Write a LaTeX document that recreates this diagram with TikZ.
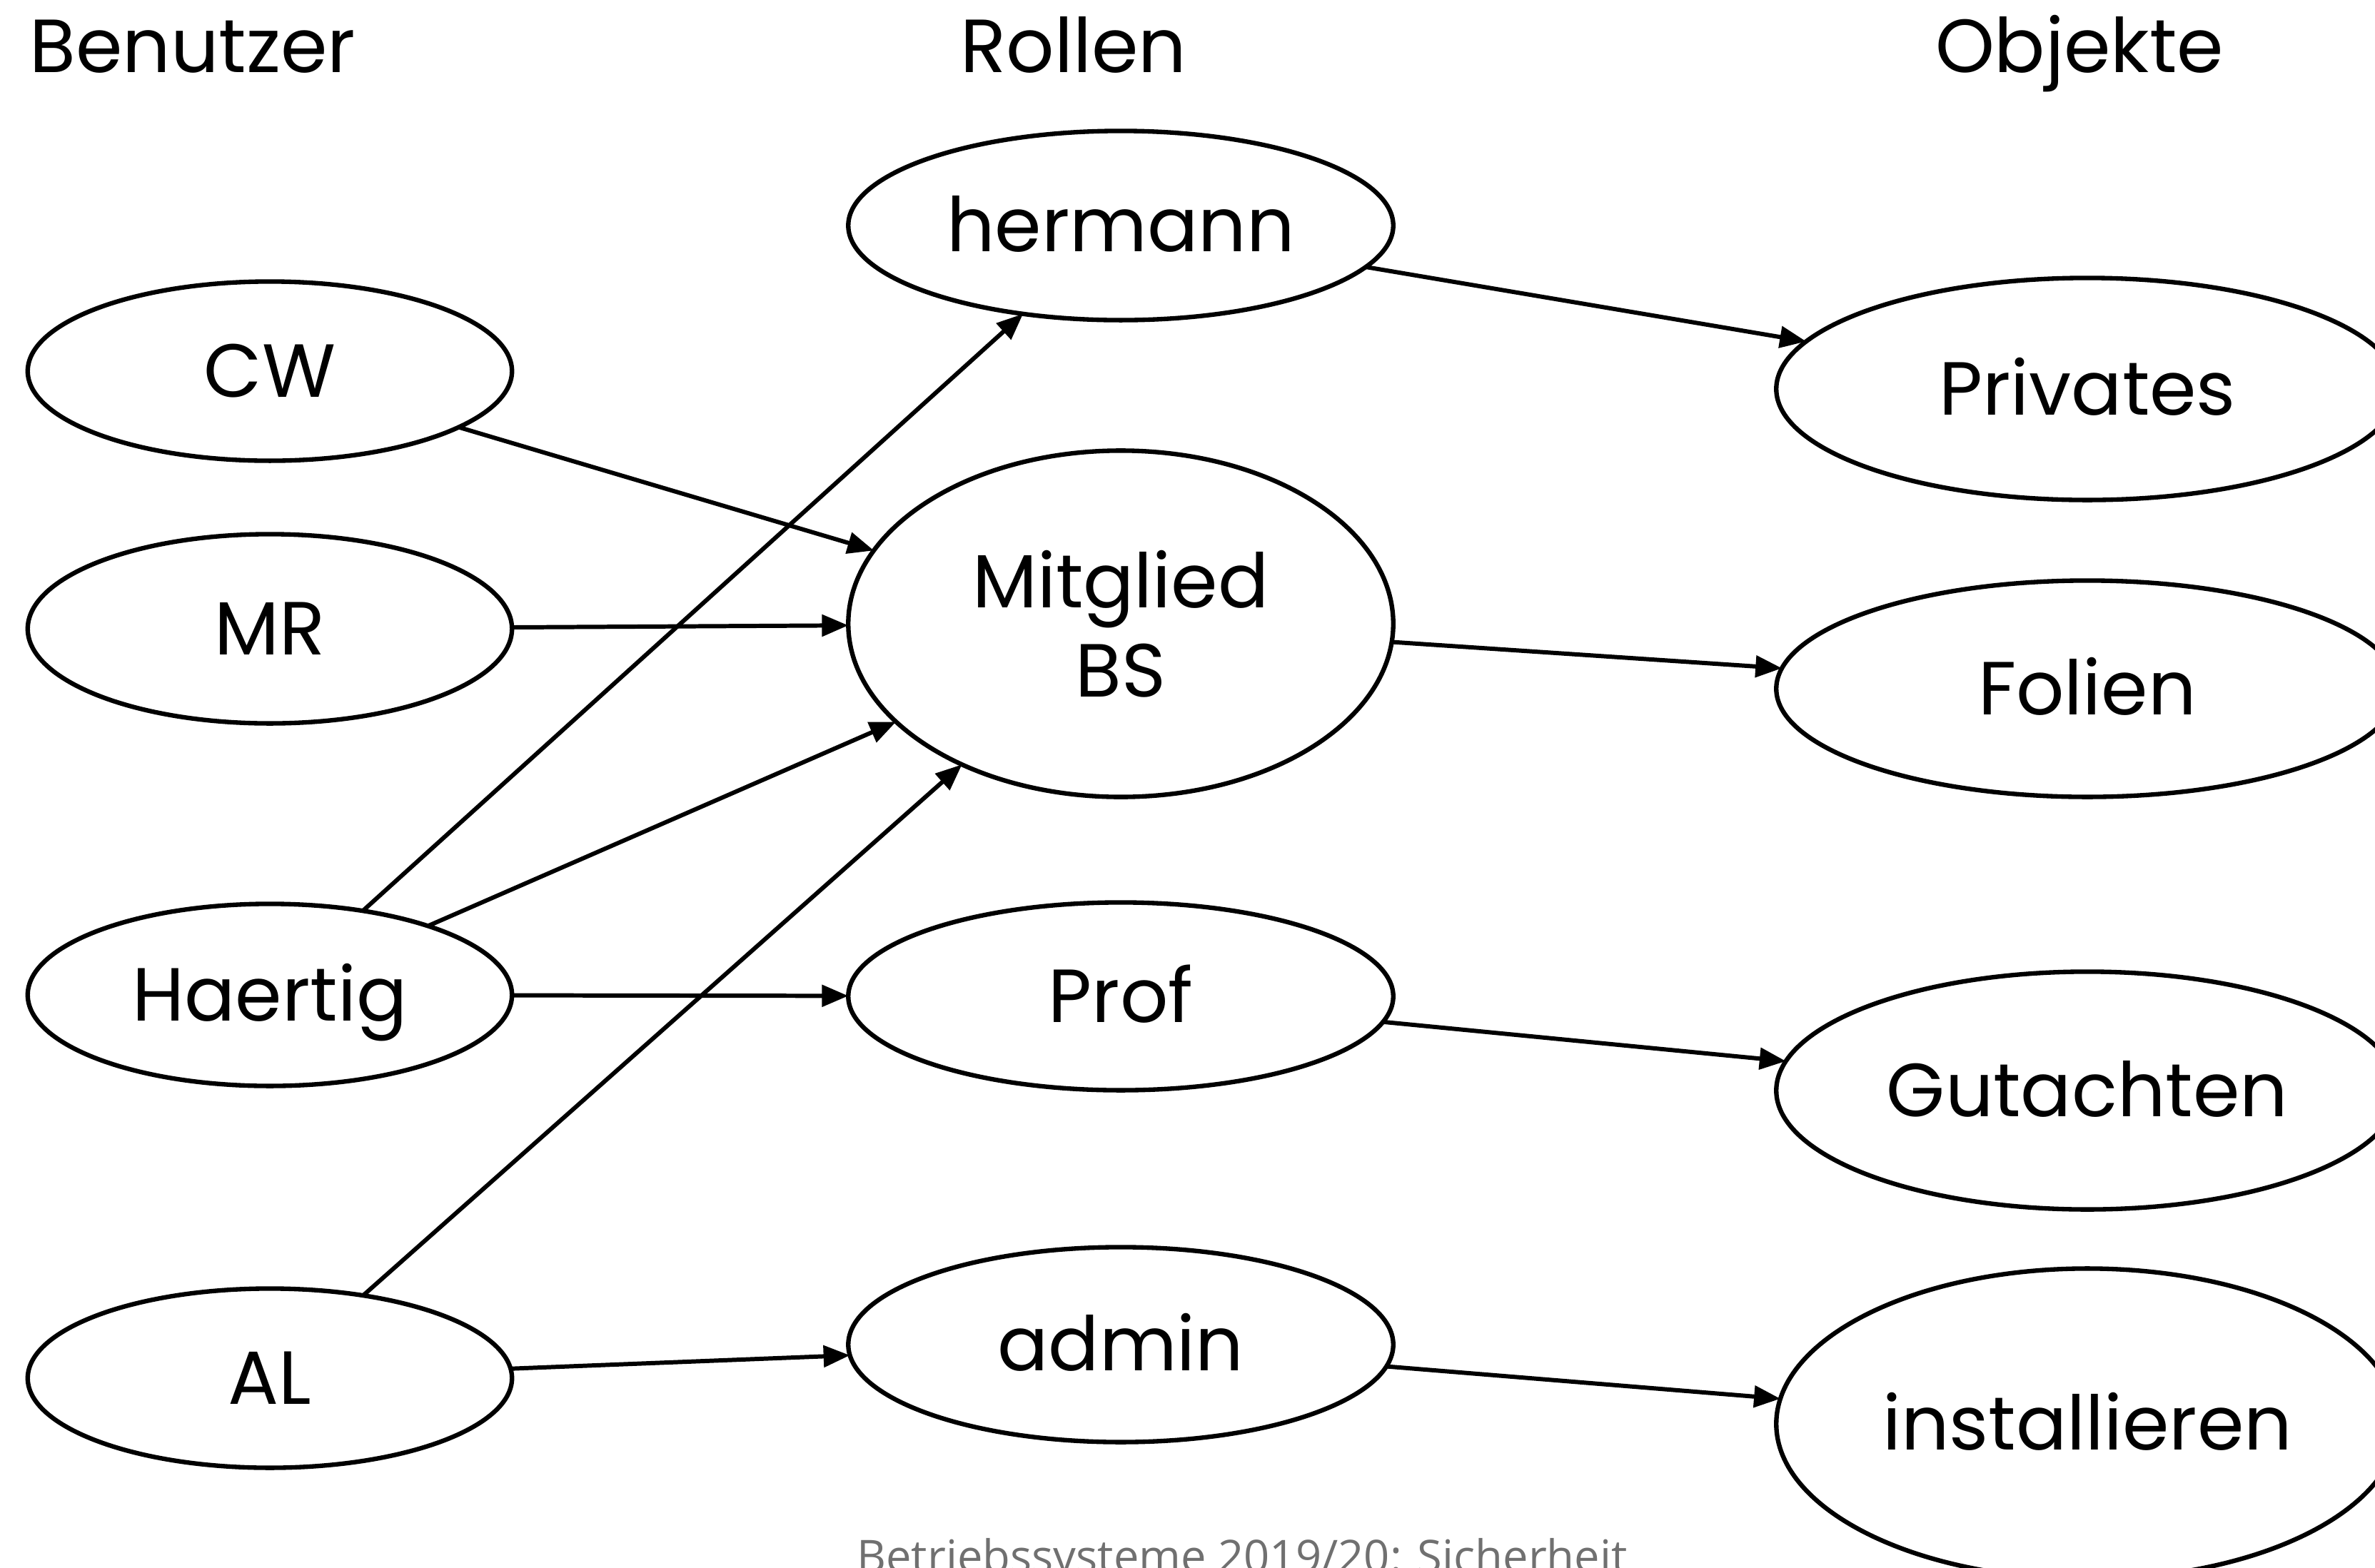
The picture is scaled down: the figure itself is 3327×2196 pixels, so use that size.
\documentclass[tikz,border=0pt]{standalone}
\usepackage{fontspec}
\setmainfont{Poppins}
\newfontfamily\footfont{Open Sans}
\usetikzlibrary{shapes.geometric,arrows.meta}
\definecolor{footgray}{RGB}{112,112,112}
\tikzset{
  ell/.style={draw, ellipse, line width=1.8pt, inner sep=0pt, outer sep=0pt,
    font=\fontsize{30}{35.6}\selectfont, align=center},
  one/.style={text height=21pt, text depth=0pt},
  user/.style={ell, one, minimum width=6.78cm, minimum height=#1},
  role/.style={ell, minimum width=7.63cm, minimum height=#1},
  obj/.style={ell, one, minimum width=8.71cm, minimum height=#1},
  head/.style={anchor=base, inner sep=0pt, font=\fontsize{30}{36}\selectfont},
  conn/.style={line width=1.7pt, -{Triangle[length=10.5pt,width=8.5pt]}}
}
\begin{document}
\begin{tikzpicture}[x=0.01cm,y=-0.01cm]
\useasboundingbox (0,0) rectangle (3327,2196);
% headings
\node[head] (hB) at (270,101) {Benutzer};
\node[head] (hR) at (1504,101) {Rollen};
\node[head] (hO) at (2913,101) {Objekte};
% users
\node[user=2.51cm] (cw) at (378,520) {CW};
\node[user=2.65cm] (mr) at (378,881) {MR};
\node[user=2.55cm] (ha) at (378,1394) {Haertig};
\node[user=2.51cm] (al) at (378,1931) {AL};
% roles
\node[role=2.65cm, one] (he) at (1570,316) {hermann};
\node[role=4.85cm] (mb) at (1570,874) {Mitglied\\BS};
\node[role=2.63cm, one] (pr) at (1570,1396) {Prof};
\node[role=2.73cm, one] (ad) at (1570,1884) {admin};
% objects
\node[obj=3.11cm] (pv) at (2924,545) {Privates};
\node[obj=3.03cm] (fo) at (2924,965) {Folien};
\node[obj=3.33cm] (gu) at (2924,1528) {Gutachten};
\node[obj=4.35cm] (in) at (2924,1995) {installieren};
% connectors
\draw[conn] (cw) -- (mb);
\draw[conn] (mr) -- (mb);
\draw[conn] (ha) -- (he);
\draw[conn] (ha) -- (mb);
\draw[conn] (ha) -- (pr);
\draw[conn] (al) -- (mb);
\draw[conn] (al) -- (ad);
\draw[conn] (he) -- (pv);
\draw[conn] (mb) -- (fo);
\draw[conn] (pr) -- (gu);
\draw[conn] (ad) -- (in);
% footer (cut off at the lower edge, as in the reference)
\node[anchor=base, inner sep=0pt, text=footgray, font=\footfont\fontsize{18}{22}\selectfont] (ft) at (1740,2203) {Betriebssysteme 2019/20: Sicherheit};
\end{tikzpicture}
\end{document}
